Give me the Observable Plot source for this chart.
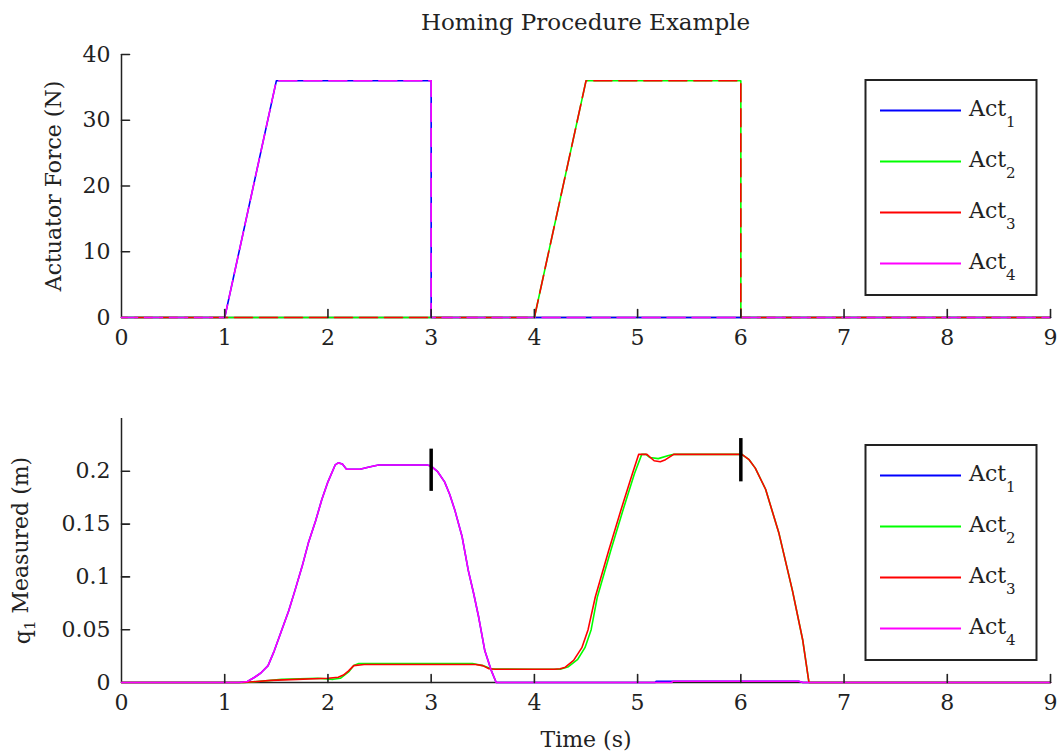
<!DOCTYPE html>
<html><head><meta charset="utf-8">
<script src="https://cdn.jsdelivr.net/npm/d3@7"></script>
<script src="https://cdn.jsdelivr.net/npm/@observablehq/plot@0.6"></script>
<style>
body{margin:0;background:#fff;}
#wrap{width:1057px;height:755px;position:relative;overflow:hidden;font-family:"DejaVu Serif";}
#title{position:absolute;left:121px;width:929px;top:0;height:40px;line-height:44px;text-align:center;font-size:23px;color:#222;}
#top{position:absolute;top:40px;left:0}
#bottom{position:absolute;top:360px;left:0}
</style></head><body>
<div id="wrap"><div id="title">Homing Procedure Example</div><div id="top"></div><div id="bottom"></div></div>
<script>
const seriesNames = ["Act1", "Act2", "Act3", "Act4"];
const seriesColors = ["#0000ff", "#00ff00", "#ff0000", "#ff00ff"];
const xTicks = [0, 1, 2, 3, 4, 5, 6, 7, 8, 9];
const forceTicks = [0, 10, 20, 30, 40];
const posTicks = [0, 0.05, 0.1, 0.15, 0.2];

// Actuator force (N)
const force1T = [0, 1, 1.5, 3, 3, 9];
const force1V = [0, 0, 36, 36, 0, 0];
const force2T = [0, 4, 4.5, 6, 6, 9];
const force2V = [0, 0, 36, 36, 0, 0];
const force3T = [0, 4, 4.5, 6, 6, 9];
const force3V = [0, 0, 36, 36, 0, 0];
const force4T = [0, 1, 1.5, 3, 3, 9];
const force4V = [0, 0, 36, 36, 0, 0];

// q1 measured (m)
const pos4T = [0, 1.14, 1.22, 1.29, 1.35, 1.42, 1.48, 1.55, 1.62, 1.68, 1.75, 1.81, 1.88, 1.94, 2.0, 2.07, 2.1, 2.14, 2.18, 2.25, 2.31, 2.4, 2.49, 2.7, 2.96, 3.0, 3.06, 3.13, 3.18, 3.23, 3.3, 3.36, 3.41, 3.46, 3.52, 3.58, 3.63, 5.33, 5.34, 6.56, 6.6, 9];
const pos4V = [0, 0, 0.001, 0.005, 0.009, 0.016, 0.03, 0.049, 0.068, 0.087, 0.11, 0.132, 0.153, 0.173, 0.19, 0.206, 0.208, 0.207, 0.202, 0.202, 0.202, 0.204, 0.206, 0.206, 0.206, 0.205, 0.2, 0.19, 0.178, 0.163, 0.138, 0.106, 0.085, 0.062, 0.03, 0.012, 0, 0, 0.0012, 0.0012, 0, 0];
const pos1T = [0, 1.14, 1.22, 1.29, 1.35, 1.42, 1.48, 1.55, 1.62, 1.68, 1.75, 1.81, 1.88, 1.94, 2.0, 2.07, 2.1, 2.14, 2.18, 2.25, 2.31, 2.4, 2.49, 2.7, 2.96, 3.0, 3.06, 3.13, 3.18, 3.23, 3.3, 3.36, 3.41, 3.46, 3.52, 3.58, 3.63, 5.17, 5.18, 6.56, 6.6, 9];
const pos1V = [0, 0, 0.001, 0.005, 0.009, 0.016, 0.03, 0.049, 0.068, 0.087, 0.11, 0.132, 0.153, 0.173, 0.19, 0.206, 0.208, 0.207, 0.202, 0.202, 0.202, 0.204, 0.206, 0.206, 0.206, 0.205, 0.2, 0.19, 0.178, 0.163, 0.138, 0.106, 0.085, 0.062, 0.03, 0.012, 0, 0, 0.0012, 0.0012, 0, 0];
const pos2T = [0, 1.2, 1.45, 1.55, 1.9, 2.05, 2.12, 2.2, 2.25, 2.3, 2.45, 3.15, 3.4, 3.5, 3.58, 4.0, 4.25, 4.33, 4.42, 4.49, 4.55, 4.61, 4.74, 4.87, 4.97, 5.04, 5.08, 5.12, 5.2, 5.3, 5.35, 6.01, 6.08, 6.14, 6.24, 6.37, 6.5, 6.6, 6.66, 9];
const pos2V = [0, 0, 0.002, 0.003, 0.004, 0.003, 0.004, 0.01, 0.016, 0.018, 0.018, 0.018, 0.018, 0.016, 0.013, 0.0125, 0.0125, 0.015, 0.022, 0.033, 0.05, 0.081, 0.125, 0.167, 0.198, 0.216, 0.216, 0.213, 0.212, 0.215, 0.216, 0.216, 0.211, 0.203, 0.183, 0.141, 0.087, 0.04, 0, 0];
const pos3T = [0, 1.18, 1.45, 1.7, 2.0, 2.1, 2.15, 2.2, 2.25, 2.35, 2.45, 3.0, 3.43, 3.5, 3.56, 3.62, 4.0, 4.19, 4.25, 4.3, 4.38, 4.46, 4.52, 4.59, 4.72, 4.85, 4.95, 5.01, 5.09, 5.16, 5.22, 5.27, 5.35, 6.01, 6.08, 6.14, 6.24, 6.37, 6.5, 6.6, 6.66, 9];
const pos3V = [0, 0, 0.002, 0.003, 0.004, 0.005, 0.007, 0.011, 0.016, 0.017, 0.017, 0.017, 0.017, 0.016, 0.013, 0.0125, 0.0125, 0.0125, 0.013, 0.0145, 0.021, 0.033, 0.05, 0.081, 0.125, 0.167, 0.198, 0.216, 0.216, 0.21, 0.209, 0.211, 0.216, 0.216, 0.211, 0.203, 0.183, 0.141, 0.087, 0.04, 0, 0];

// black homing markers
const markT = [3, 6];
const markLo = [0.181, 0.19];
const markHi = [0.221, 0.231];

const forceT = [force1T, force2T, force3T, force4T];
const forceV = [force1V, force2V, force3V, force4V];
const posT = [pos1T, pos2T, pos3T, pos4T];
const posV = [pos1V, pos2V, pos3V, pos4V];
const rows = (T, V) => T.map((t, i) => ({t, v: V[i]}));

const font = {fontFamily: "DejaVu Serif", fontSize: "22px", color: "#222", background: "#fff", overflow: "visible"};
const dashes = [null, null, "18 7", "18 7"];
const offsets = [0, 0, 12, 2];

// inward tick shape (pixel length, drawn by the vector mark)
const tickShape = {draw(context, l) { context.moveTo(0, 0); context.lineTo(0, -l); }};
const inTicksX = (ticks) => Plot.vector(ticks, {x: d => d, y: () => 0, length: 8, rotate: 0, anchor: "start", shape: tickShape, stroke: "#222", strokeWidth: 1.6});
const inTicksY = (ticks) => Plot.vector(ticks, {x: () => 0, y: d => d, length: 8, rotate: 90, anchor: "start", shape: tickShape, stroke: "#222", strokeWidth: 1.6});

const topPlot = Plot.plot({
  width: 1057, height: 320,
  marginLeft: 121, marginRight: 7, marginTop: 14, marginBottom: 43,
  style: font,
  x: {domain: [0, 9]},
  y: {domain: [0, 40]},
  marks: [
    Plot.ruleX([0], {stroke: "#222", strokeWidth: 1.5}),
    Plot.ruleY([0], {stroke: "#222", strokeWidth: 1.5}),
    ...seriesNames.map((n, i) => Plot.line(rows(forceT[i], forceV[i]), {
      x: "t", y: "v", stroke: seriesColors[i], strokeWidth: 1.6,
      strokeDasharray: dashes[i], strokeDashoffset: offsets[i]
    })),
    inTicksX(xTicks.slice(1)),
    inTicksY(forceTicks.slice(1)),
    Plot.axisX({ticks: xTicks, tickSize: 0, tickPadding: 12, tickFormat: d => String(d), label: null}),
    Plot.axisY({ticks: forceTicks, tickSize: 0, tickPadding: 11, tickFormat: d => String(d),
      label: "Actuator Force (N)", labelAnchor: "center", labelOffset: 76, labelArrow: "none"})
  ]
});

const botPlot = Plot.plot({
  width: 1057, height: 395,
  marginLeft: 121, marginRight: 7, marginTop: 58, marginBottom: 73,
  style: font,
  x: {domain: [0, 9]},
  y: {domain: [0, 0.25]},
  marks: [
    Plot.ruleX([0], {stroke: "#222", strokeWidth: 1.5}),
    Plot.ruleY([0], {stroke: "#222", strokeWidth: 1.5}),
    ...seriesNames.map((n, i) => Plot.line(rows(posT[i], posV[i]), {
      x: "t", y: "v", stroke: seriesColors[i], strokeWidth: 1.6
    })),
    Plot.ruleX(markT.map((t, i) => ({t, lo: markLo[i], hi: markHi[i]})), {x: "t", y1: "lo", y2: "hi", stroke: "#000", strokeWidth: 3.5}),
    inTicksX(xTicks.slice(1)),
    inTicksY(posTicks.slice(1)),
    Plot.axisX({ticks: xTicks, tickSize: 0, tickPadding: 12, tickFormat: d => String(d),
      label: "Time (s)", labelAnchor: "center", labelOffset: 64, labelArrow: "none"}),
    Plot.axisY({ticks: posTicks, tickSize: 0, tickPadding: 11, tickFormat: d => String(d),
      label: "q1 Measured (m)", labelAnchor: "center", labelOffset: 107, labelArrow: "none"})
  ]
});

document.getElementById("top").appendChild(topPlot);
document.getElementById("bottom").appendChild(botPlot);

// subscript in y label of bottom plot
d3.select(botPlot).selectAll('g[aria-label="y-axis label"] text').each(function () {
  const t = d3.select(this);
  t.text(null);
  t.append("tspan").text("q");
  t.append("tspan").attr("dy", "0.3em").attr("font-size", "15px").text("1");
  t.append("tspan").attr("dy", "-0.3em").text(" Measured (m)");
});

function addLegend(svg, y0) {
  const g = d3.select(svg).append("g").attr("aria-label", "legend").attr("text-anchor", "start");
  g.append("rect").attr("x", 865.5).attr("y", y0).attr("width", 171).attr("height", 215)
    .attr("fill", "#fff").attr("stroke", "#222").attr("stroke-width", 2);
  seriesNames.forEach((n, i) => {
    const ly = y0 + 30.5 + i * 51;
    g.append("line").attr("x1", 880).attr("x2", 961).attr("y1", ly).attr("y2", ly)
      .attr("stroke", seriesColors[i]).attr("stroke-width", 2);
    const t = g.append("text").attr("x", 969).attr("y", ly + 5).attr("fill", "#222")
      .attr("text-anchor", "start")
      .attr("font-family", "DejaVu Serif").attr("font-size", 22);
    t.append("tspan").text(n.slice(0, 3));
    t.append("tspan").attr("dy", 11).attr("font-size", 15).text(n.slice(3));
  });
}
addLegend(topPlot, 40);
addLegend(botPlot, 85);
</script>
</body></html>
